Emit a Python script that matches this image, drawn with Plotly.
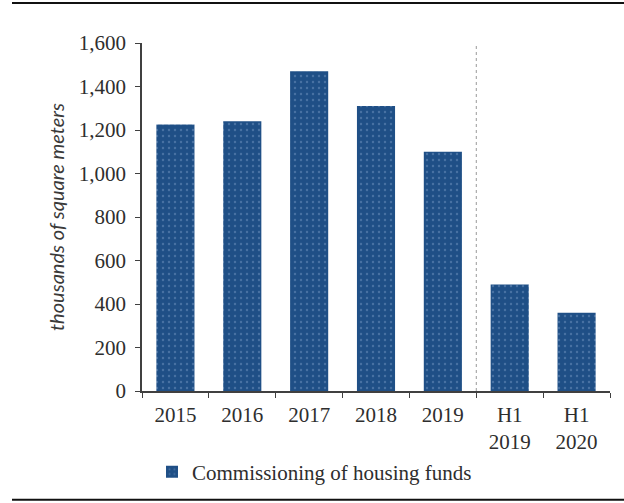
import plotly.graph_objects as go

# Housing commissioning, thousands of square meters
categories = ["2015", "2016", "2017", "2018", "2019", "H1<br>2019", "H1<br>2020"]
values = [1225, 1240, 1470, 1310, 1100, 490, 360]
series_name = "Commissioning of housing funds"
y_ticks = [0, 200, 400, 600, 800, 1000, 1200, 1400, 1600]
y_tick_labels = ["0", "200", "400", "600", "800", "1,000", "1,200", "1,400", "1,600"]

W, H = 624, 503
L, R, T, B = 142, 14, 43, 111
PW, PH = W - L - R, H - T - B

bar_color = "#1f4f86"
axis_color = "#404040"
text_color = "#2e2e2e"
serif = "Liberation Serif, Times New Roman, serif"


def px_x(x):
    return (x - L) / PW


def px_y(y):
    return (H - B - y) / PH


fig = go.Figure()
fig.add_trace(go.Bar(
    x=categories,
    y=values,
    name=series_name,
    marker=dict(
        color=bar_color,
        line=dict(width=0),
        pattern=dict(shape=".", fgcolor="#6f93c0", bgcolor=bar_color,
                     size=6, solidity=0.12, fillmode="overlay"),
    ),
    showlegend=True,
))

# Dashed separator between full years and half-year figures
fig.add_shape(type="line", xref="x", yref="y", x0=4.5, x1=4.5, y0=0, y1=1600,
              line=dict(color="#9a9a9a", width=1, dash="3px,3px"), layer="below")

# Frame rules above and below the chart
for y_rule in (3, 501):
    fig.add_shape(type="line", xref="paper", yref="paper",
                  x0=px_x(12), x1=px_x(W), y0=px_y(y_rule), y1=px_y(y_rule),
                  line=dict(color="#111111", width=2))

fig.update_layout(
    width=W, height=H,
    margin=dict(l=L, r=R, t=T, b=B),
    paper_bgcolor="white",
    plot_bgcolor="white",
    bargap=0.43,
    font=dict(family=serif, size=21, color=text_color),
    legend=dict(
        orientation="h",
        x=px_x(152), xanchor="left",
        y=px_y(472), yanchor="middle",
        font=dict(family=serif, size=21, color=text_color),
        bgcolor="rgba(0,0,0,0)",
    ),
    xaxis=dict(
        type="category",
        showline=True, linecolor=axis_color, linewidth=1.5,
        ticks="outside", tickson="boundaries", ticklen=5, tickcolor=axis_color,
        ticklabelstandoff=4,
        tickfont=dict(family=serif, size=21, color=text_color),
        showgrid=False, zeroline=False,
    ),
    yaxis=dict(
        range=[0, 1600],
        tickvals=y_ticks, ticktext=y_tick_labels,
        showline=True, linecolor=axis_color, linewidth=1.5,
        ticks="outside", ticklen=5, tickcolor=axis_color,
        ticklabelstandoff=5,
        tickfont=dict(family=serif, size=21, color=text_color),
        showgrid=False, zeroline=False,
        title=dict(text="<i>thousands of square meters</i>",
                   font=dict(family="Lato, sans-serif", size=20, color="#3a3a3a"),
                   standoff=9),
    ),
)

fig.write_html("out.html")
